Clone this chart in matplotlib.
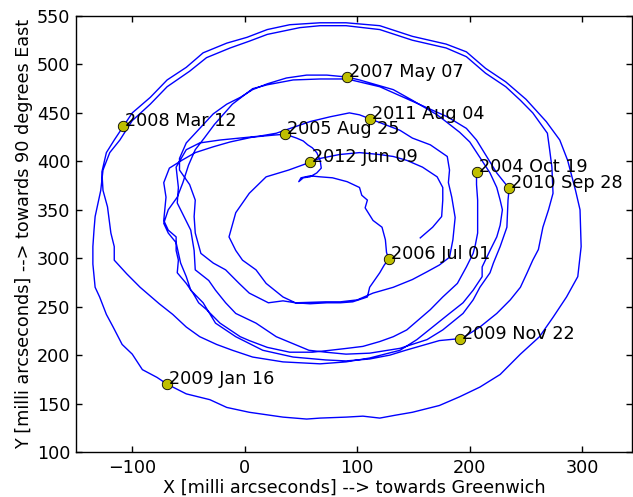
import numpy as np
import matplotlib
matplotlib.use('Agg')
import matplotlib.pyplot as plt

FS = 12.7
plt.rcParams['font.family'] = ['DejaVu Sans']
plt.rcParams['font.size'] = FS

# Pole track in milli arcseconds, split at the labelled dates
x_2004_2005 = [206, 206, 207, 207, 207, 205, 203, 197, 189, 176, 165, 154, 144, 132, 120, 105, 91, 76, 60, 40,
               20, 4, -4, -13, -22, -34, -41, -46, -52, -60, -59, -61, -61, -68, -72, -70, -72, -67, -56, -44,
               -28, -13, 7, 25, 36]
y_2004_2005 = [389, 376, 360, 345, 326, 314, 305, 291, 274, 260, 247, 236, 226, 219, 214, 209, 207, 205, 203, 203,
               208, 215, 219, 226, 233, 247, 254, 264, 274, 285, 298, 308, 322, 329, 339, 363, 378, 393, 401, 409,
               415, 420, 425, 427, 428]

x_2005_2006 = [36, 46, 52, 56, 60, 64, 67, 68, 64, 58, 52, 48, 50, 58, 67, 78, 91, 102, 104, 109,
               107, 114, 122, 125, 126, 128]
y_2005_2006 = [428, 424, 421, 417, 414, 409, 401, 393, 388, 384, 383, 379, 383, 385, 384, 383, 379, 373, 365, 360,
               352, 339, 332, 319, 306, 299]

x_2006_2007 = [128, 124, 120, 111, 109, 96, 85, 73, 58, 45, 34, 21, 4, -5, -17, -28, -39, -44, -45, -44,
               -49, -58, -58, -52, -40, -28, -16, -4, 7, 20, 37, 55, 73, 91]
y_2006_2007 = [299, 293, 285, 270, 260, 255, 254, 254, 253, 254, 256, 254, 264, 274, 288, 295, 305, 326, 343, 360,
               376, 391, 403, 419, 434, 449, 459, 466, 474, 480, 486, 489, 489, 487]

x_2007_2008 = [91, 102, 120, 132, 149, 171, 180, 191, 200, 209, 218, 224, 227, 229, 227, 224, 218, 211, 211, 203,
               194, 182, 167, 153, 138, 111, 90, 67, 34, 7, -11, -25, -40, -52, -64, -76, -93, -105, -116, -116,
               -119, -122, -126, -127, -123, -116, -108]
y_2007_2008 = [487, 484, 478, 474, 463, 448, 440, 430, 420, 404, 388, 373, 360, 350, 334, 322, 308, 291, 281, 267,
               254, 243, 229, 216, 205, 197, 193, 191, 193, 198, 205, 211, 219, 229, 242, 253, 270, 284, 298, 312,
               326, 353, 370, 389, 409, 422, 436]

x_2008_2009 = [-108, -100, -84, -69, -52, -37, -16, 2, 20, 40, 67, 90, 120, 149, 179, 197, 214, 232, 250, 268,
               280, 287, 294, 298, 299, 296, 286, 274, 262, 245, 227, 209, 191, 173, 149, 134, 120, 105, 90, 67,
               55, 34, 4, -16, -31, -52, -69]
y_2008_2009 = [436, 450, 466, 484, 497, 512, 522, 528, 536, 541, 543, 543, 540, 529, 521, 513, 496, 482, 464, 441,
               422, 401, 370, 350, 312, 281, 260, 239, 219, 201, 180, 167, 157, 148, 141, 138, 135, 137, 136, 135,
               134, 136, 141, 146, 154, 160, 170]

x_2009_jan_nov = [-69, -78, -91, -100, -109, -117, -123, -129, -133, -135, -135, -134, -133, -128, -126, -120, -111,
                  -100, -84, -69, -49, -34, -13, 4, 20, 49, 67, 90, 120, 149, 179, 197, 214, 232, 245, 256, 269,
                  271, 273, 274, 270, 265, 261, 256, 251, 245, 236, 224, 209, 194, 191]
y_2009_jan_nov = [170, 177, 185, 201, 211, 229, 242, 260, 270, 294, 312, 329, 343, 370, 391, 409, 422,
                  442, 459, 477, 493, 507, 517, 524, 531, 538, 540, 540, 536, 525, 517, 508, 491, 477, 463, 450, 429,
                  412, 394, 367, 350, 332, 309, 298, 285, 270, 257, 243, 229, 218, 217]

x_2009_2010 = [191, 173, 158, 143, 129, 111, 90, 72, 43, 16, -8, -26, -37, -48, -52, -57, -61, -68, -72, -68,
               -60, -55, -50, -44, -36, -27, -11, 7, 20, 43, 67, 91, 120, 149, 180, 197, 206, 215, 224, 235]
y_2009_2010 = [217, 215, 210, 205, 200, 196, 194, 195, 198, 205, 219, 233, 254, 267, 281, 295, 316, 326, 336, 350,
               363, 378, 396, 412, 424, 438, 459, 475, 479, 484, 485, 485, 477, 462, 446, 434, 422, 405, 388, 372]

x_2010_2011 = [235, 234, 233, 227, 221, 218, 209, 203, 194, 176, 162, 138, 111, 90, 72, 57, 28, 10, -8, -17,
               -26, -32, -44, -45, -48, -54, -60, -59, -61, -52, -40, -22, -4, 13, 28, 43, 58, 76, 93, 102, 111]
y_2010_2011 = [372, 360, 332, 312, 295, 285, 270, 257, 243, 226, 216, 207, 202, 201, 203, 205, 219, 233, 243, 254,
               267, 277, 288, 308, 329, 343, 357, 373, 394, 412, 419, 422, 424, 426, 429, 435, 441, 446, 450, 448, 444]

x_2011_2012 = [111, 120, 138, 149, 165, 180, 182, 181, 184, 187, 185, 182, 173, 162, 149, 132, 114, 100, 85, 72,
               45, 34, 19, 10, -2, -8, -14, -8, 4, 19, 39, 58]
y_2011_2012 = [444, 440, 432, 424, 417, 405, 391, 378, 363, 342, 319, 301, 293, 286, 278, 270, 264, 257, 255, 255,
               254, 260, 274, 288, 298, 308, 322, 347, 367, 384, 391, 399]

x_2012_end = [58, 62, 67, 84, 102, 120, 132, 144, 158, 171, 176, 176, 175, 167, 156]
y_2012_end = [399, 401, 403, 407, 409, 407, 405, 401, 394, 384, 373, 360, 343, 332, 321]

# Labelled dates
date_labels = ['2004 Oct 19', '2005 Aug 25', '2006 Jul 01', '2007 May 07', '2008 Mar 12',
               '2009 Jan 16', '2009 Nov 22', '2010 Sep 28', '2011 Aug 04', '2012 Jun 09']
date_x = [206, 36, 128, 91, -108, -69, 191, 235, 111, 58]
date_y = [389, 428, 299, 487, 436, 170, 217, 372, 444, 399]

xs = [x_2004_2005, x_2005_2006, x_2006_2007, x_2007_2008, x_2008_2009,
      x_2009_jan_nov, x_2009_2010, x_2010_2011, x_2011_2012, x_2012_end]
ys = [y_2004_2005, y_2005_2006, y_2006_2007, y_2007_2008, y_2008_2009,
      y_2009_jan_nov, y_2009_2010, y_2010_2011, y_2011_2012, y_2012_end]
track_x = np.concatenate([np.asarray(a[1:] if i else a, float) for i, a in enumerate(xs)])
track_y = np.concatenate([np.asarray(a[1:] if i else a, float) for i, a in enumerate(ys)])

W, H = 633, 497
fig = plt.figure(figsize=(W / 100, H / 100), dpi=100)
ax = fig.add_axes([76 / W, 45 / H, 556 / W, 436 / H])

ax.plot(track_x, track_y, color='blue', lw=1.0, zorder=2)
ax.plot(date_x, date_y, 'o', color=(0.75, 0.75, 0.0), mec='black', mew=0.6, ms=7.5, zorder=3)
for lab, x, y in zip(date_labels, date_x, date_y):
    ax.annotate(lab, (x, y), xytext=(1.5, 0), textcoords='offset points',
                fontsize=FS, ha='left', va='baseline', zorder=4)

ax.set_xlim(-150, 344.2)
ax.set_ylim(100, 550)
ax.set_xticks([-100, 0, 100, 200, 300])
ax.set_yticks(np.arange(100, 551, 50))
ax.tick_params(direction='in', top=True, right=True, length=4, width=1, labelsize=FS)
ax.tick_params(axis='x', pad=5)
ax.tick_params(axis='y', pad=4)
for s in ax.spines.values():
    s.set_linewidth(1.0)

ax.set_xlabel('X [milli arcseconds] --> towards Greenwich', fontsize=FS, labelpad=1)
ax.set_ylabel('Y [milli arcseconds] --> towards 90 degrees East', fontsize=FS, labelpad=3)

fig.savefig('out.png', dpi=100)
